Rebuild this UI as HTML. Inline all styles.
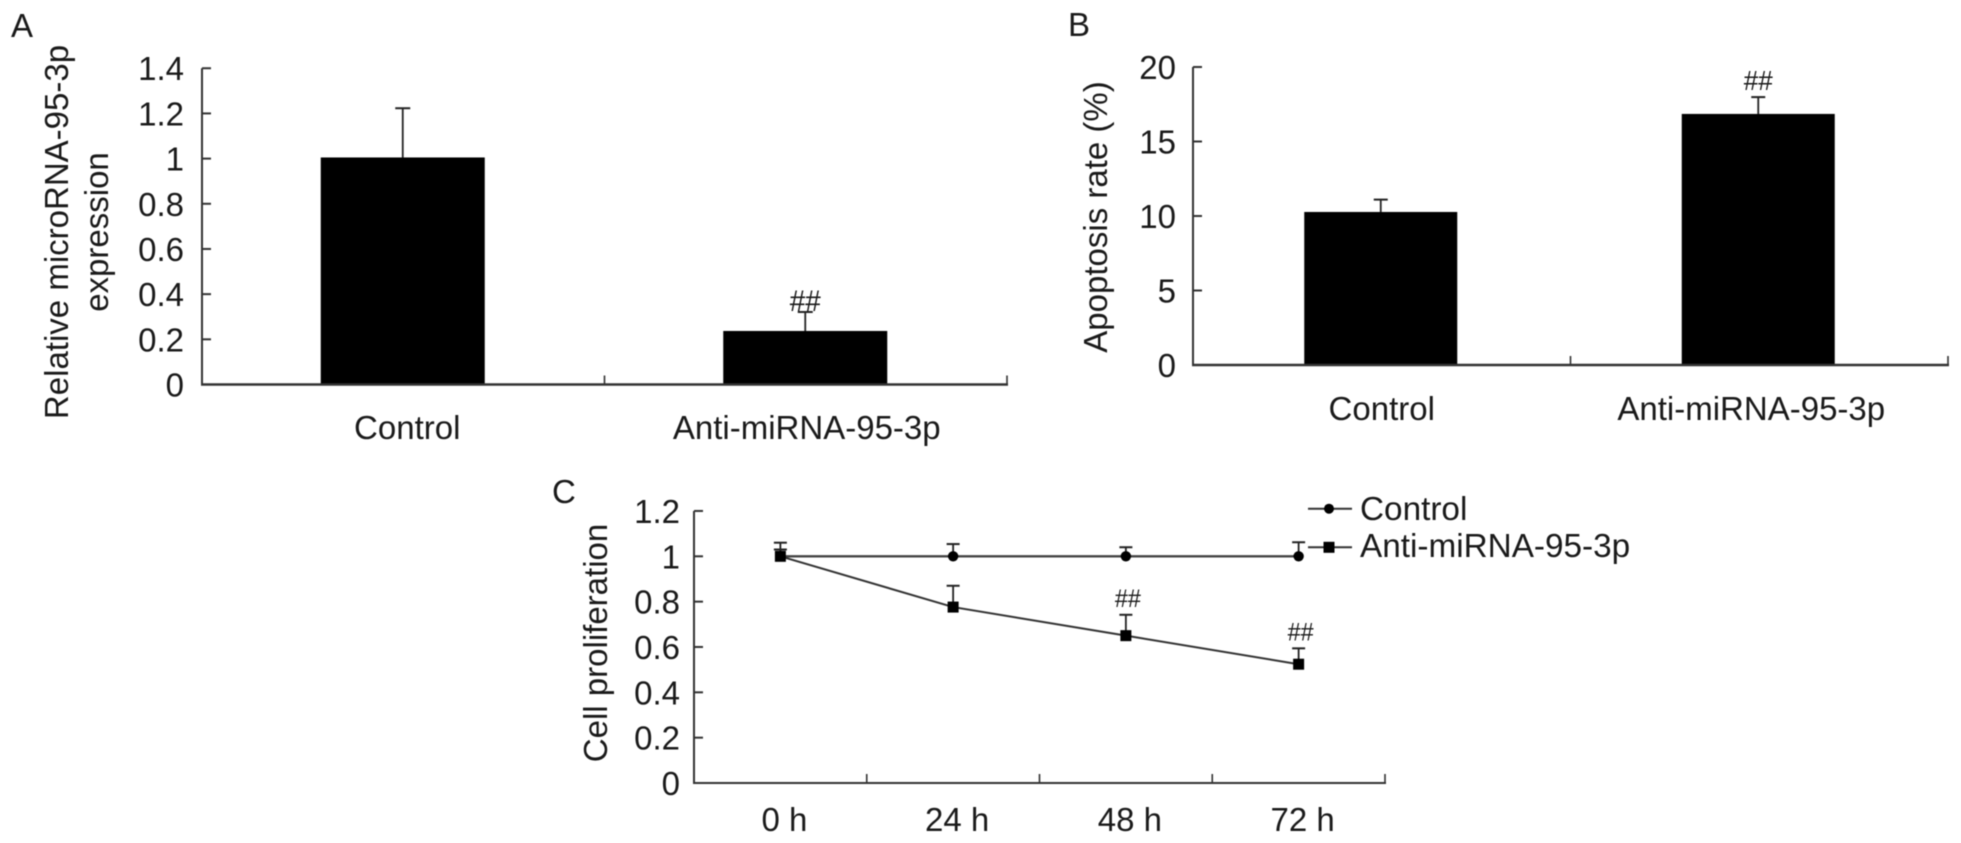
<!DOCTYPE html>
<html lang="en">
<head>
<meta charset="utf-8">
<title>miRNA-95-3p charts</title>
<style>
html,body{margin:0;padding:0;background:#fff;width:1961px;height:843px;overflow:hidden}
svg{display:block;filter:blur(0.45px)}
text{font-family:"Liberation Sans",sans-serif;fill:#1a1a1a;font-size:33px}
</style>
</head>
<body>
<svg id="figure" xmlns="http://www.w3.org/2000/svg" width="1961" height="843" viewBox="0 0 1961 843">
  <rect x="0" y="0" width="1961" height="843" fill="#fff"/>
  <text x="11" y="37">A</text>
  <text x="1068" y="36">B</text>
  <text x="552" y="503">C</text>
  <text transform="translate(68,232) rotate(-90)" text-anchor="middle">Relative microRNA-95-3p</text>
  <text transform="translate(108,232) rotate(-90)" text-anchor="middle">expression</text>
  <text transform="translate(1107,217) rotate(-90)" text-anchor="middle">Apoptosis rate (%)</text>
  <text transform="translate(607,643) rotate(-90)" text-anchor="middle">Cell proliferation</text>
  <g id="panel-a"></g>
  <g id="panel-b"></g>
  <g id="panel-c"></g>
  <g id="legend">
    <g>
      <line x1="1308" y1="508.7" x2="1352" y2="508.7" stroke="#333" stroke-width="2"/>
      <circle cx="1329" cy="508.7" r="5" fill="#000"/>
      <text x="1360" y="520" style="font-size:33.3px">Control</text>
    </g>
    <g>
      <line x1="1308" y1="547.3" x2="1352" y2="547.3" stroke="#333" stroke-width="2"/>
      <rect x="1323.5" y="541.8" width="11" height="11" fill="#000"/>
      <text x="1360" y="557" style="font-size:33.3px">Anti-miRNA-95-3p</text>
    </g>
  </g>
</svg>
<script>
// Panel A data
const aCategories = ['Control', 'Anti-miRNA-95-3p'];
const aValues = [1.005, 0.237];
const aErrors = [0.218, 0.084];
const aMarks = ['', '##'];
const aTicks = [0, 0.2, 0.4, 0.6, 0.8, 1, 1.2, 1.4];
// Panel B data
const bCategories = ['Control', 'Anti-miRNA-95-3p'];
const bValues = [10.27, 16.85];
const bErrors = [0.83, 1.13];
const bMarks = ['', '##'];
const bTicks = [0, 5, 10, 15, 20];
// Panel C data
const cCategories = ['0 h', '24 h', '48 h', '72 h'];
const cControl = [1.0, 1.0, 1.0, 1.0];
const cControlErrors = [0.06, 0.054, 0.04, 0.062];
const cAnti = [1.0, 0.776, 0.65, 0.524];
const cAntiErrors = [0.03, 0.094, 0.092, 0.07];
const cMarks = ['', '', '##', '##'];
const cTicks = [0, 0.2, 0.4, 0.6, 0.8, 1, 1.2];

const NS = 'http://www.w3.org/2000/svg';
const AXIS = '#333';
function mk(tag, attrs, parent) {
  const el = document.createElementNS(NS, tag);
  for (const k in attrs) el.setAttribute(k, attrs[k]);
  parent.appendChild(el);
  return el;
}
function linearY(base, pxPerUnit) { return v => base - v * pxPerUnit; }
function bandX(left, right, n) { const w = (right - left) / n; return i => left + w * (i + 0.5); }

function drawAxes(parent, o) {
  const yAxis = mk('line', {x1:o.left, y1:o.y(o.ticks[o.ticks.length-1]), x2:o.left, y2:o.base, stroke:AXIS, 'stroke-width':2}, parent);
  
  
  const xAxis = mk('line', {x1:o.left-1, y1:o.base, x2:o.right+1, y2:o.base, stroke:AXIS, 'stroke-width':o.xAxisWidth}, parent);
  
  
  o.ticks.forEach(t => {
    const tick = mk('line', {x1:o.left, y1:o.y(t), x2:o.left+9, y2:o.y(t), stroke:AXIS, 'stroke-width':2}, parent);
    
    
    const label = mk('text', {x:o.tickLabelX, y:o.y(t)+12, 'text-anchor':'end'}, parent);
    
    
    label.textContent = String(t);
  });
  const w = (o.right - o.left) / o.categories.length;
  o.categories.forEach((c, i) => {
    const tx = o.left + w * (i + 1);
    const tick = mk('line', {x1:tx, y1:o.base, x2:tx, y2:o.base-9, stroke:AXIS, 'stroke-width':1.6}, parent);
    
    
    const label = mk('text', {x:o.x(i)+o.labelDx[i], y:o.labelY, 'text-anchor':'middle'}, parent);
    
    
    label.textContent = c;
  });
}
function drawError(parent, x, y0, y1, capW) {
  const stem = mk('line', {x1:x, y1:y0, x2:x, y2:y1, stroke:'#222', 'stroke-width':1.8}, parent);
  
  
  const cap = mk('line', {x1:x-capW/2, y1:y1, x2:x+capW/2, y2:y1, stroke:'#222', 'stroke-width':2}, parent);
  
  
}
function drawMark(parent, text, x, y, size, len) {
  const m = mk('text', {x:x, y:y, 'text-anchor':'middle', textLength:len, lengthAdjust:'spacingAndGlyphs', style:'font-size:'+size+'px'}, parent);
  
  
  m.textContent = text;
}
function drawBarPanel(parent, o) {
  o.values.forEach((v, i) => {
    const cx = o.x(i) + o.barDx, top = o.y(v);
    const errTop = o.y(v + o.errors[i]);
    drawError(parent, cx, top, errTop, o.capW);
    const bar = mk('rect', {x:cx-o.barW/2, y:top, width:o.barW, height:o.base-top, fill:'#000'}, parent);
    
    
    if (o.marks[i]) drawMark(parent, o.marks[i], cx, errTop+o.markDy, o.markSize, o.markLen);
  });
  drawAxes(parent, o);
}

const aPanel = document.getElementById('panel-a');
const aLeft = 202, aRight = 1007;
drawBarPanel(aPanel, {
  left:aLeft, right:aRight, base:384.5, y:linearY(384.5, 225.9), x:bandX(aLeft, aRight, aCategories.length),
  ticks:aTicks, categories:aCategories, values:aValues, errors:aErrors, marks:aMarks,
  barW:164, barDx:-0.5, capW:15, tickLabelX:184, labelDx:[4, 1], labelY:439, markDy:-1, markSize:30, markLen:31, xAxisWidth:2.5
});
const bPanel = document.getElementById('panel-b');
const bLeft = 1193, bRight = 1948;
drawBarPanel(bPanel, {
  left:bLeft, right:bRight, base:365, y:linearY(365, 14.9), x:bandX(bLeft, bRight, bCategories.length),
  ticks:bTicks, categories:bCategories, values:bValues, errors:bErrors, marks:bMarks,
  barW:153, barDx:-1, capW:14, tickLabelX:1176, labelDx:[0, -8], labelY:420, markDy:-7, markSize:28, markLen:29, xAxisWidth:2.5
});

const cPanel = document.getElementById('panel-c');
const cLeft = 694, cRight = 1385, cBase = 783;
const cY = linearY(cBase, 226.7);
const cX = bandX(cLeft, cRight, cCategories.length);
drawAxes(cPanel, {
  left:cLeft, right:cRight, base:cBase, y:cY, x:cX, ticks:cTicks, categories:cCategories,
  tickLabelX:680, labelDx:[4, 4, 4, 4], labelY:831, xAxisWidth:2
});
cControl.forEach((v, i) => {
  drawError(cPanel, cX(i), cY(v), cY(v + cControlErrors[i]), 13);
});
cAnti.forEach((v, i) => {
  drawError(cPanel, cX(i), cY(v), cY(v + cAntiErrors[i]), 13);
  if (cMarks[i]) drawMark(cPanel, cMarks[i], cX(i)+2, cY(v + cAntiErrors[i])-8, 25, 26);
});
const controlLine = mk('polyline', {points:cControl.map((v, i) => cX(i)+','+cY(v)).join(' '), fill:'none', stroke:'#444', 'stroke-width':2.4}, cPanel);


const antiLine = mk('polyline', {points:cAnti.map((v, i) => cX(i)+','+cY(v)).join(' '), fill:'none', stroke:'#333', 'stroke-width':2}, cPanel);


cControl.forEach((v, i) => {
  const pt = mk('circle', {cx:cX(i), cy:cY(v), r:5.2, fill:'#000'}, cPanel);
  
  
});
cAnti.forEach((v, i) => {
  const pt = mk('rect', {x:cX(i)-5.5, y:cY(v)-5.5, width:11, height:11, fill:'#000'}, cPanel);
  
  
});
</script>
</body>
</html>
